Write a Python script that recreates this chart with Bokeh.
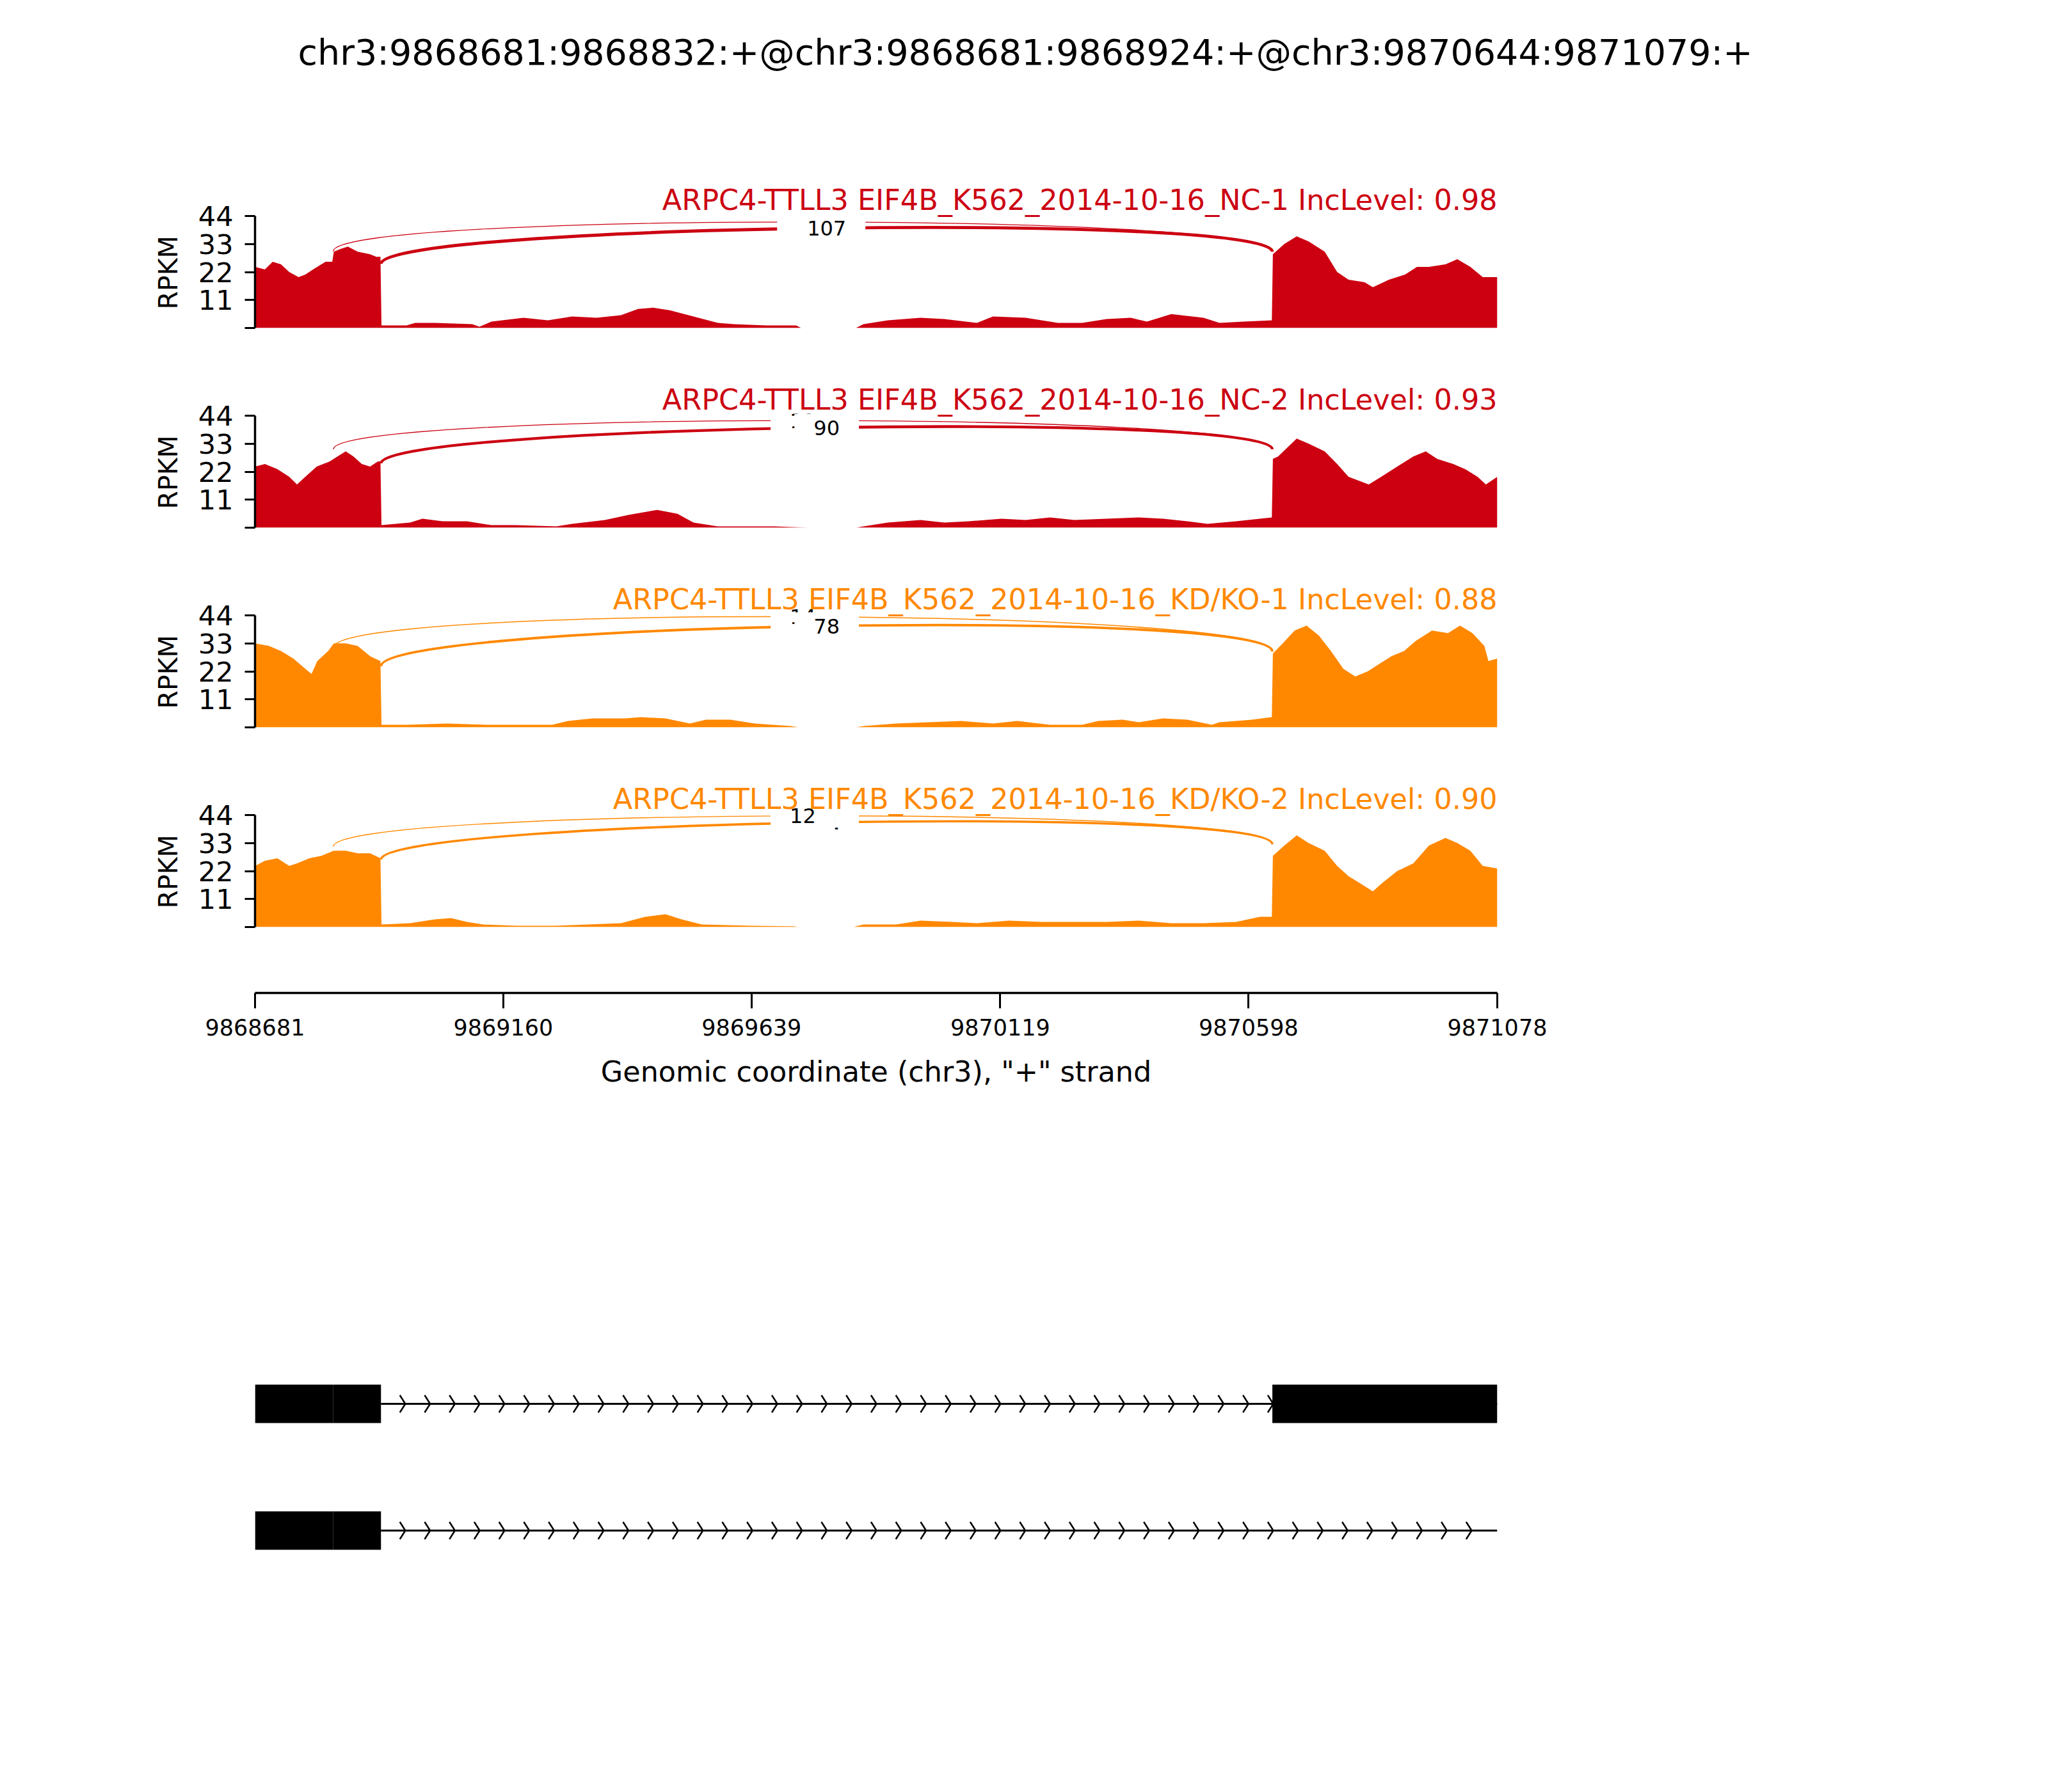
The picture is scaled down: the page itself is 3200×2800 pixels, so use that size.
import numpy as np
from bokeh.plotting import figure
from bokeh.layouts import column
from bokeh.models import Range1d, FixedTicker, Label, BasicTickFormatter, Title
from bokeh.embed import file_html
from bokeh.resources import INLINE

# ---------------- data ----------------
TITLE = "chr3:9868681:9868832:+@chr3:9868681:9868924:+@chr3:9870644:9871079:+"
X_START, X_END = 9868681, 9871078
X_TICKS = [9868681, 9869160, 9869639, 9870119, 9870598, 9871078]
Y_TICKS = [0, 11, 22, 33, 44]
Y_LABEL = "RPKM"
X_LABEL = 'Genomic coordinate (chr3), "+" strand'

SAMPLES = ["ARPC4-TTLL3 EIF4B_K562_2014-10-16_NC-1",
           "ARPC4-TTLL3 EIF4B_K562_2014-10-16_NC-2",
           "ARPC4-TTLL3 EIF4B_K562_2014-10-16_KD/KO-1",
           "ARPC4-TTLL3 EIF4B_K562_2014-10-16_KD/KO-2"]
INC_LEVELS = ["0.98", "0.93", "0.88", "0.90"]
COLORS = ["#CC0011", "#CC0011", "#FF8800", "#FF8800"]

# junctions
JXN_SHORT = (9868832, 9870644)
JXN_LONG = (9868924, 9870644)
JXN_SHORT_COUNTS = [7, 11, 14, 12]
JXN_LONG_COUNTS = [107, 90, 78, 71]
JXN_SHORT_LEFT_Y = [30.1, 30.8, 31.3, 31.6]
JXN_LONG_LEFT_Y = [25.2, 25.3, 24.0, 26.5]
JXN_RIGHT_Y = [30.0, 30.8, 29.8, 32.5]
SHORT_LABEL_ON_TOP = [False, False, False, True]

# coverage (RPKM) per sample
POS_1 = [9868681, 9868700, 9868715, 9868731, 9868747, 9868765, 9868778, 9868793, 9868817, 9868830,
         9868833, 9868845, 9868860, 9868879, 9868903, 9868915, 9868923,
         9868925, 9868973, 9868990, 9869028, 9869100, 9869114, 9869137, 9869199, 9869246, 9869293,
         9869340, 9869387, 9869420, 9869449, 9869481, 9869527, 9869574, 9869605, 9869668, 9869725,
         9869735, 9869840, 9869855, 9869902, 9869965, 9870011, 9870074, 9870105, 9870168, 9870230,
         9870277, 9870324, 9870371, 9870402, 9870449, 9870511, 9870542, 9870589, 9870643,
         9870645, 9870667, 9870691, 9870714, 9870745, 9870769, 9870791, 9870822, 9870838, 9870869,
         9870900, 9870923, 9870946, 9870978, 9871001, 9871026, 9871050, 9871078]
COV_1 = [24, 23, 26, 25, 22, 20, 21, 23, 26, 26,
         30, 31, 32, 30, 29, 28, 28,
         1, 1, 2, 2, 1.5, 0.5, 2.5, 4, 3, 4.5,
         4, 5, 7.5, 8, 7, 4.5, 2, 1.5, 1, 1,
         0, 0, 1.5, 3, 4, 3.5, 2, 4.5, 4, 2,
         2, 3.5, 4, 2.5, 5.5, 4, 2, 2.5, 3,
         29, 33, 36, 34, 30, 22, 19, 18, 16, 19,
         21, 24, 24, 25, 27, 24, 20, 20]

POS_2 = [9868681, 9868700, 9868724, 9868747, 9868762, 9868778, 9868800, 9868825, 9868840, 9868856,
         9868871, 9868887, 9868903, 9868918, 9868923,
         9868925, 9868980, 9869004, 9869043, 9869090, 9869137, 9869184, 9869262, 9869293, 9869356,
         9869402, 9869457, 9869496, 9869527, 9869574, 9869683, 9869750, 9869840, 9869855, 9869902,
         9869965, 9870011, 9870058, 9870121, 9870168, 9870215, 9870262, 9870324, 9870386, 9870433,
         9870480, 9870519, 9870574, 9870643,
         9870645, 9870655, 9870691, 9870714, 9870745, 9870769, 9870791, 9870830, 9870854, 9870885,
         9870916, 9870940, 9870962, 9870993, 9871016, 9871040, 9871056, 9871078]
COV_2 = [24, 25, 23, 20, 17, 20, 24, 26, 28, 30,
         28, 25, 24, 26, 26,
         1, 2, 3.5, 2.5, 2.5, 1, 1, 0.5, 1.5, 3,
         5, 7, 5.5, 2, 0.5, 0.5, 0, 0, 0.5, 2,
         3, 2, 2.5, 3.5, 3, 4, 3, 3.5, 4, 3.5,
         2.5, 1.5, 2.5, 4,
         27, 28, 35, 33, 30, 25, 20, 17, 20, 24,
         28, 30, 27, 25, 23, 20, 17, 20]

POS_3 = [9868681, 9868708, 9868731, 9868755, 9868778, 9868790, 9868801, 9868822, 9868833, 9868856,
         9868879, 9868903, 9868923,
         9868925, 9868973, 9869051, 9869129, 9869254, 9869285, 9869332, 9869395, 9869426, 9869473,
         9869520, 9869551, 9869598, 9869645, 9869715, 9869730, 9869840, 9869855, 9869918, 9869980,
         9870043, 9870105, 9870152, 9870215, 9870277, 9870308, 9870355, 9870386, 9870433, 9870480,
         9870527, 9870542, 9870605, 9870643,
         9870645, 9870664, 9870687, 9870710, 9870734, 9870757, 9870781, 9870804, 9870828, 9870851,
         9870874, 9870898, 9870921, 9870952, 9870983, 9871006, 9871030, 9871053, 9871061, 9871078]
COV_3 = [33, 32, 30, 27, 23, 21, 26, 30, 33, 33,
         32, 28, 26,
         1, 1, 1.5, 1, 1, 2.5, 3.5, 3.5, 4, 3.5,
         1.5, 3, 3, 1.5, 0.5, 0, 0, 0.5, 1.5, 2,
         2.5, 1.5, 2.5, 1, 1, 2.5, 3, 2, 3.5, 3,
         1, 2, 3, 4,
         29, 33, 38, 40, 36, 30, 23, 20, 22, 25,
         28, 30, 34, 38, 37, 40, 37, 32, 26, 27]

POS_4 = [9868681, 9868700, 9868724, 9868747, 9868762, 9868786, 9868809, 9868833, 9868856, 9868879,
         9868903, 9868923,
         9868925, 9868980, 9869028, 9869059, 9869090, 9869121, 9869184, 9869262, 9869324, 9869387,
         9869434, 9869473, 9869504, 9869543, 9869637, 9869720, 9869730, 9869835, 9869855, 9869918,
         9869965, 9870027, 9870074, 9870136, 9870199, 9870262, 9870324, 9870386, 9870449, 9870511,
         9870574, 9870620, 9870643,
         9870645, 9870667, 9870691, 9870714, 9870745, 9870769, 9870791, 9870815, 9870838, 9870854,
         9870885, 9870916, 9870946, 9870978, 9871001, 9871026, 9871050, 9871078]
COV_4 = [24, 26, 27, 24, 25, 27, 28, 30, 30, 29,
         29, 27,
         1, 1.5, 3, 3.5, 2, 1, 0.5, 0.5, 1, 1.5,
         4, 5, 3, 1, 0.5, 0.3, 0, 0, 1, 1,
         2.5, 2, 1.5, 2.5, 2, 2, 2, 2.5, 1.5, 1.5,
         2, 4, 4,
         28, 32, 36, 33, 30, 24, 20, 17, 14, 17,
         22, 25, 32, 35, 33, 30, 24, 23]

POSITIONS = [POS_1, POS_2, POS_3, POS_4]
COVERAGES = [COV_1, COV_2, COV_3, COV_4]
for a, b in zip(POSITIONS, COVERAGES):
    assert len(a) == len(b), (len(a), len(b))

# transcripts (gene track)
TX1_EXONS_START = [9868681, 9868832, 9870644]
TX1_EXONS_END = [9868832, 9868924, 9871078]
TX2_EXONS_START = [9868681, 9868832]
TX2_EXONS_END = [9868832, 9868924]
TX_INTRON_START = [9868924, 9868924]
TX_INTRON_END = [9871078, 9871078]
CHEVRON_FIRST = 9868971
CHEVRON_STEP = 47.85
CHEVRON_LAST = [9870646, 9871030]

# ---------------- layout / style ----------------
FONT = "DejaVu Sans"
W = 3184
FRAME_W = 1941
BL = 398
BR = W - BL - FRAME_W
TITLE_H = 272
PANEL_H, PANEL_FRAME_H = 312, 240
PX_PER_UNIT = 175 / 44
PANEL_YMAX = PANEL_FRAME_H / PX_PER_UNIT
XAX_H = 240
XAX_TOP = 21
GENE_H = 2784 - TITLE_H - 4 * PANEL_H - XAX_H
ARC_H_FRAC = 0.43
SAMPLE_LABEL_Y = 50.2
TITLE_LEFT_OFFSET = 67
RPKM_OFFSET = 29


def clean(p):
    p.outline_line_color = None
    p.xgrid.visible = False
    p.ygrid.visible = False
    p.background_fill_color = "white"
    p.border_fill_color = "white"


def style_axis(ax):
    ax.axis_label_text_font = FONT
    ax.axis_label_text_font_style = "normal"
    ax.axis_label_text_color = "black"
    ax.major_label_text_font = FONT
    ax.major_label_text_color = "black"
    ax.major_tick_in = 0
    ax.minor_tick_out = 0
    ax.minor_tick_in = 0
    ax.major_tick_line_width = 3
    ax.major_tick_line_color = "black"
    ax.axis_line_width = 3.5
    ax.axis_line_color = "black"


# title figure
pt = figure(width=W, height=TITLE_H, x_range=Range1d(0, 1), y_range=Range1d(0, 1),
            output_backend="svg", toolbar_location=None,
            x_axis_location=None, y_axis_location=None,
            min_border_left=BL, min_border_right=BR, min_border_top=113, min_border_bottom=0)
clean(pt)
pt.title = Title(text=TITLE, align="left", offset=TITLE_LEFT_OFFSET,
                 text_font=FONT, text_font_size="55.5px", text_font_style="normal",
                 text_color="black", standoff=0)

figs = [pt]


def bez_mid(l, r, h):
    return (l + r) / 2 + 0.75 * h


for i in range(4):
    col = COLORS[i]
    pos = POSITIONS[i]
    cov = COVERAGES[i]
    p = figure(width=W, height=PANEL_H, x_range=Range1d(X_START, X_END),
               y_range=Range1d(0, PANEL_YMAX), output_backend="svg", toolbar_location=None,
               x_axis_location=None,
               min_border_left=BL, min_border_right=BR, min_border_top=0,
               min_border_bottom=PANEL_H - PANEL_FRAME_H)
    clean(p)
    p.varea(x=pos, y1=[0] * len(pos), y2=cov, fill_color=col, fill_alpha=1.0)

    h = ARC_H_FRAC * max(cov)
    arcs = [(JXN_SHORT, JXN_SHORT_LEFT_Y[i], JXN_SHORT_COUNTS[i]),
            (JXN_LONG, JXN_LONG_LEFT_Y[i], JXN_LONG_COUNTS[i])]
    labels = []
    for (s, e), ly, n in arcs:
        ry = JXN_RIGHT_Y[i]
        p.bezier(x0=[s], y0=[ly], x1=[e], y1=[ry], cx0=[s], cy0=[ly + h], cx1=[e], cy1=[ry + h],
                 line_color=col, line_width=1.0 + 0.037 * n)
        labels.append(Label(x=(s + e) / 2, y=bez_mid(ly, ry, h), text=str(n),
                            text_align="center", text_baseline="middle",
                            text_font=FONT, text_font_size="32px", text_color="black",
                            background_fill_color="white", background_fill_alpha=1.0,
                            padding=(30, 10)))
    if SHORT_LABEL_ON_TOP[i]:
        labels = labels[::-1]
    for lab in labels:
        p.add_layout(lab)

    p.add_layout(Label(x=X_END, y=SAMPLE_LABEL_Y, text=f"{SAMPLES[i]} IncLevel: {INC_LEVELS[i]}",
                       text_align="right", text_baseline="alphabetic", text_color=col,
                       text_font=FONT, text_font_size="44.5px"))

    ax = p.yaxis[0]
    style_axis(ax)
    ax.ticker = FixedTicker(ticks=Y_TICKS)
    ax.major_label_overrides = {0: ""}
    ax.bounds = (0, 44)
    ax.major_label_text_font_size = "43px"
    ax.major_label_standoff = 18
    ax.major_tick_out = 16
    # y-axis title placed on the 0..44 span (frame extends higher for the sample label)
    p.add_layout(Title(text=Y_LABEL, align="left", offset=RPKM_OFFSET, text_font=FONT,
                       text_font_size="41px", text_font_style="normal", text_color="black",
                       standoff=40), "left")
    figs.append(p)

# x axis figure
px = figure(width=W, height=XAX_H, x_range=Range1d(X_START, X_END), y_range=Range1d(0, 1),
            output_backend="svg", toolbar_location=None, y_axis_location=None,
            min_border_left=BL, min_border_right=BR, min_border_top=XAX_TOP,
            min_border_bottom=XAX_H - XAX_TOP - 10)
clean(px)
xa = px.xaxis[0]
style_axis(xa)
xa.ticker = FixedTicker(ticks=X_TICKS)
xa.formatter = BasicTickFormatter(use_scientific=False)
xa.axis_label = X_LABEL
xa.axis_label_text_font_size = "44.5px"
xa.axis_label_standoff = 28
xa.major_label_text_font_size = "35px"
xa.major_label_standoff = 16
xa.major_tick_out = 24
figs.append(px)

# gene track figure
ROW_PX = 198
row0_px = 433
y_top = -row0_px / ROW_PX
y_bot = y_top + GENE_H / ROW_PX
pg = figure(width=W, height=GENE_H, x_range=Range1d(X_START, X_END), y_range=Range1d(y_bot, y_top),
            output_backend="svg", toolbar_location=None, x_axis_location=None, y_axis_location=None,
            min_border_left=BL, min_border_right=BR, min_border_top=0, min_border_bottom=0)
clean(pg)
EX_HALF = 30 / ROW_PX
CH_HALF = 13.5 / ROW_PX
CH_W = 10.6
tx_exons = [(TX1_EXONS_START, TX1_EXONS_END), (TX2_EXONS_START, TX2_EXONS_END)]
for row, (starts, ends) in enumerate(tx_exons):
    pg.segment(x0=[TX_INTRON_START[row]], y0=[row], x1=[TX_INTRON_END[row]], y1=[row],
               line_color="black", line_width=3)
    cx = np.arange(CHEVRON_FIRST, CHEVRON_LAST[row], CHEVRON_STEP)
    pg.multi_line(xs=[[c - CH_W, c, c - CH_W] for c in cx],
                  ys=[[row - CH_HALF, row, row + CH_HALF] for c in cx],
                  line_color="black", line_width=2.5)
    pg.quad(left=starts, right=ends, top=[row - EX_HALF] * len(starts),
            bottom=[row + EX_HALF] * len(starts), fill_color="black", line_color=None)
figs.append(pg)

layout = column(*figs, spacing=0)
open("out.html", "w").write(file_html(layout, INLINE, title="sashimi"))
